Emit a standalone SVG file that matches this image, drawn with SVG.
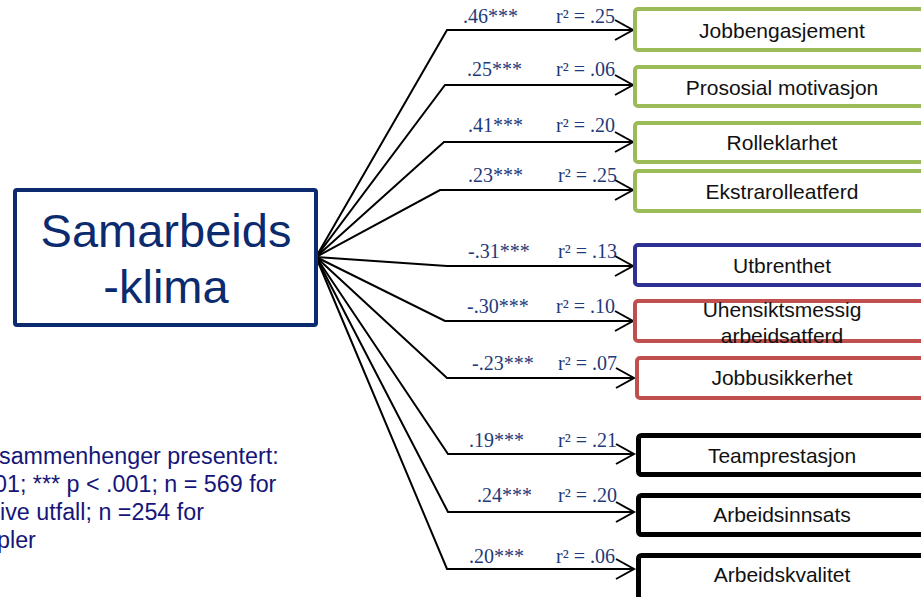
<svg xmlns="http://www.w3.org/2000/svg" width="921" height="597" viewBox="0 0 921 597">
  <style>
    .bg { fill: #ffffff; }
    .hub { fill: #ffffff; stroke: #0c2a6e; stroke-width: 4; }
    .hub-text { font-family: "Liberation Sans", Arial, sans-serif; font-size: 47px; fill: #0c2a6e; text-anchor: middle; }
    .box { fill: #ffffff; stroke-width: 4; }
    .green { stroke: #9bbb59; }
    .blue { stroke: #2e3192; }
    .red { stroke: #c0504d; }
    .black { stroke: #000000; stroke-width: 5; }
    .label { font-family: "Liberation Sans", Arial, sans-serif; font-size: 21px; fill: #111111; text-anchor: middle; }
    .coef { font-family: "Liberation Serif", "Times New Roman", serif; font-size: 20px; fill: #1f3a78; }
    .link { fill: none; stroke: #000000; stroke-width: 2; stroke-linejoin: miter; }
    .note { font-family: "Liberation Sans", Arial, sans-serif; font-size: 23.3px; fill: #16167a; }
  </style>

  <rect class="bg" x="0" y="0" width="921" height="597"/>

  <!-- connectors: from the hub to a bend, then straight to each outcome box -->
  <g id="connectors">
    <path class="link" d="M316,257 L447,30 L633,30 M615,20 L633,30 L615,40"/>
    <path class="link" d="M316,257 L445,85 L633,85 M615,75 L633,85 L615,95"/>
    <path class="link" d="M316,257 L444,142 L633,142 M615,132 L633,142 L615,152"/>
    <path class="link" d="M316,257 L440,190 L633,190 M615,180 L633,190 L615,200"/>
    <path class="link" d="M316,257 L447,266 L633,266 M615,256 L633,266 L615,276"/>
    <path class="link" d="M316,257 L445,321 L633,321 M615,311 L633,321 L615,331"/>
    <path class="link" d="M316,257 L447,378 L634,378 M616,368 L634,378 L616,388"/>
    <path class="link" d="M316,257 L448,454 L634,454 M616,444 L634,454 L616,464"/>
    <path class="link" d="M316,257 L448,512 L634,512 M616,502 L634,512 L616,522"/>
    <path class="link" d="M316,257 L447,569 L634,569 M616,559 L634,569 L616,579"/>
  </g>

  <!-- coefficient and explained-variance labels -->
  <g id="coefficients">
    <text class="coef" x="463" y="23">.46***</text><text class="coef" x="556" y="23">r² = .25</text>
    <text class="coef" x="467" y="76">.25***</text><text class="coef" x="556" y="76">r² = .06</text>
    <text class="coef" x="468" y="132">.41***</text><text class="coef" x="556" y="132">r² = .20</text>
    <text class="coef" x="468" y="182">.23***</text><text class="coef" x="558" y="182">r² = .25</text>
    <text class="coef" x="468" y="258">-.31***</text><text class="coef" x="558" y="258">r² = .13</text>
    <text class="coef" x="467" y="313">-.30***</text><text class="coef" x="556" y="313">r² = .10</text>
    <text class="coef" x="472" y="370">-.23***</text><text class="coef" x="558" y="370">r² = .07</text>
    <text class="coef" x="469" y="447">.19***</text><text class="coef" x="558" y="447">r² = .21</text>
    <text class="coef" x="477" y="502">.24***</text><text class="coef" x="558" y="502">r² = .20</text>
    <text class="coef" x="469" y="563">.20***</text><text class="coef" x="556" y="563">r² = .06</text>
  </g>

  <!-- predictor -->
  <g id="samarbeidsklima">
    <rect class="hub" x="15" y="190" width="301" height="135" rx="2"/>
    <text class="hub-text" x="166" y="247">Samarbeids</text>
    <text class="hub-text" x="166" y="303">-klima</text>
  </g>

  <!-- outcomes -->
  <g id="jobbengasjement">
    <rect class="box green" x="635" y="9" width="310" height="41" rx="3"/>
    <text class="label" x="782" y="38">Jobbengasjement</text>
  </g>
  <g id="prososial-motivasjon">
    <rect class="box green" x="635" y="67" width="310" height="39" rx="3"/>
    <text class="label" x="782" y="95">Prososial motivasjon</text>
  </g>
  <g id="rolleklarhet">
    <rect class="box green" x="635" y="123" width="310" height="39" rx="3"/>
    <text class="label" x="782" y="150">Rolleklarhet</text>
  </g>
  <g id="ekstrarolleatferd">
    <rect class="box green" x="635" y="171" width="310" height="40" rx="3"/>
    <text class="label" x="782" y="199">Ekstrarolleatferd</text>
  </g>
  <g id="utbrenthet">
    <rect class="box blue" x="635" y="245" width="310" height="40" rx="3"/>
    <text class="label" x="782" y="273">Utbrenthet</text>
  </g>
  <g id="uhensiktsmessig-arbeidsatferd">
    <rect class="box red" x="635" y="301" width="310" height="40" rx="3"/>
    <text class="label" x="782" y="317">Uhensiktsmessig</text>
    <text class="label" x="782" y="343">arbeidsatferd</text>
  </g>
  <g id="jobbusikkerhet">
    <rect class="box red" x="637" y="358" width="310" height="40" rx="3"/>
    <text class="label" x="782" y="385">Jobbusikkerhet</text>
  </g>
  <g id="teamprestasjon">
    <rect class="box black" x="638.5" y="435.5" width="310" height="39" rx="3"/>
    <text class="label" x="782" y="463">Teamprestasjon</text>
  </g>
  <g id="arbeidsinnsats">
    <rect class="box black" x="638.5" y="495.5" width="310" height="39" rx="3"/>
    <text class="label" x="782" y="522">Arbeidsinnsats</text>
  </g>
  <g id="arbeidskvalitet">
    <rect class="box black" x="638.5" y="555.5" width="310" height="45" rx="3"/>
    <text class="label" x="782" y="582">Arbeidskvalitet</text>
  </g>

  <!-- note, cut off at the left edge -->
  <g id="note">
    <text class="note" x="-1" y="464">sammenhenger presentert:</text>
    <text class="note" x="-6" y="492">01; *** p &lt; .001; n = 569 for</text>
    <text class="note" x="0" y="520">ive utfall; n =254 for</text>
    <text class="note" x="-3" y="548">pler</text>
  </g>
</svg>
